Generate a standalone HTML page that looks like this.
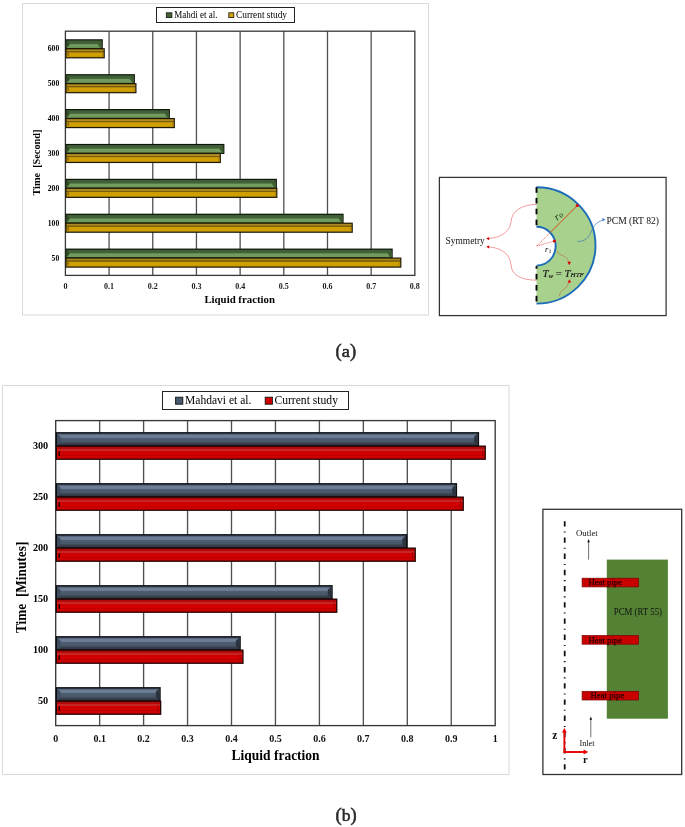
<!DOCTYPE html>
<html><head><meta charset="utf-8"><title>Liquid fraction validation</title>
<style>
html,body{margin:0;padding:0;background:#fff;}
body{width:685px;height:827px;overflow:hidden;}
svg{display:block;font-family:'Liberation Serif', 'Times New Roman', serif;}
</style></head>
<body>
<svg width="685" height="827" viewBox="0 0 685 827">
<rect x="22.50" y="3.50" width="406.00" height="311.50" fill="#fff" stroke="#d9d9d9" stroke-width="1" />
<line x1="109.08" y1="31.20" x2="109.08" y2="275.40" stroke="#505050" stroke-width="1.3" />
<line x1="152.76" y1="31.20" x2="152.76" y2="275.40" stroke="#505050" stroke-width="1.3" />
<line x1="196.44" y1="31.20" x2="196.44" y2="275.40" stroke="#505050" stroke-width="1.3" />
<line x1="240.13" y1="31.20" x2="240.13" y2="275.40" stroke="#505050" stroke-width="1.3" />
<line x1="283.81" y1="31.20" x2="283.81" y2="275.40" stroke="#505050" stroke-width="1.3" />
<line x1="327.49" y1="31.20" x2="327.49" y2="275.40" stroke="#505050" stroke-width="1.3" />
<line x1="371.17" y1="31.20" x2="371.17" y2="275.40" stroke="#505050" stroke-width="1.3" />
<rect x="65.40" y="31.20" width="349.45" height="244.20" fill="none" stroke="#383838" stroke-width="1.3" />
<defs><linearGradient id="gG" x1="0" y1="0" x2="0" y2="1"><stop offset="0" stop-color="#3d5c33"/><stop offset="0.4" stop-color="#44623a"/><stop offset="0.47" stop-color="#5a8049"/><stop offset="0.55" stop-color="#729c60"/><stop offset="0.88" stop-color="#6f985d"/><stop offset="1" stop-color="#557d45"/></linearGradient></defs>
<defs><linearGradient id="gY" x1="0" y1="0" x2="0" y2="1"><stop offset="0" stop-color="#a8861e"/><stop offset="0.2" stop-color="#b08c20"/><stop offset="0.24" stop-color="#7a5e10"/><stop offset="0.34" stop-color="#7a5e10"/><stop offset="0.46" stop-color="#cfa004"/><stop offset="0.85" stop-color="#d0a000"/><stop offset="1" stop-color="#b08a08"/></linearGradient></defs>
<defs><linearGradient id="gS" x1="0" y1="0" x2="0" y2="1"><stop offset="0" stop-color="#3a4658"/><stop offset="0.12" stop-color="#5f6f86"/><stop offset="0.18" stop-color="#6d7d95"/><stop offset="0.37" stop-color="#6a7a91"/><stop offset="0.42" stop-color="#4c5c70"/><stop offset="0.73" stop-color="#485769"/><stop offset="0.78" stop-color="#3b4452"/><stop offset="1" stop-color="#2e353f"/></linearGradient></defs>
<defs><linearGradient id="gR" x1="0" y1="0" x2="0" y2="1"><stop offset="0" stop-color="#a80505"/><stop offset="0.16" stop-color="#b80a0a"/><stop offset="0.2" stop-color="#c52424"/><stop offset="0.35" stop-color="#c82828"/><stop offset="0.38" stop-color="#d10000"/><stop offset="0.7" stop-color="#d20000"/><stop offset="0.73" stop-color="#b80000"/><stop offset="0.78" stop-color="#d00000"/><stop offset="1" stop-color="#c80000"/></linearGradient></defs>
<rect x="65.40" y="39.25" width="37.40" height="10.05" fill="#0d1508" />
<rect x="66.55" y="40.40" width="35.10" height="7.75" fill="url(#gG)" />
<polygon points="66.55,40.40 69.75,44.27 66.55,48.15" fill="#2f4a22"/>
<polygon points="101.65,40.40 101.65,48.15 100.65,48.15 97.65,44.04" fill="#3d5a30"/>
<rect x="65.40" y="48.20" width="39.40" height="10.20" fill="#1e1804" />
<rect x="66.55" y="49.35" width="37.10" height="7.90" fill="url(#gY)" />
<ellipse cx="68.15" cy="54.25" rx="0.9" ry="2.0" fill="#8a6808"/>
<rect x="102.05" y="52.15" width="0.90" height="4.30" fill="#a88412" />
<text x="59.20" y="51.24" font-size="7.6" text-anchor="end" font-weight="bold" fill="#000" >600</text>
<rect x="65.40" y="74.14" width="69.50" height="10.05" fill="#0d1508" />
<rect x="66.55" y="75.29" width="67.20" height="7.75" fill="url(#gG)" />
<polygon points="66.55,75.29 69.75,79.16 66.55,83.04" fill="#2f4a22"/>
<polygon points="133.75,75.29 133.75,83.04 132.75,83.04 129.75,78.93" fill="#3d5a30"/>
<rect x="65.40" y="83.09" width="71.10" height="10.20" fill="#1e1804" />
<rect x="66.55" y="84.24" width="68.80" height="7.90" fill="url(#gY)" />
<ellipse cx="68.15" cy="89.13" rx="0.9" ry="2.0" fill="#8a6808"/>
<rect x="133.75" y="87.04" width="0.90" height="4.30" fill="#a88412" />
<text x="59.20" y="86.13" font-size="7.6" text-anchor="end" font-weight="bold" fill="#000" >500</text>
<rect x="65.40" y="109.02" width="104.50" height="10.05" fill="#0d1508" />
<rect x="66.55" y="110.17" width="102.20" height="7.75" fill="url(#gG)" />
<polygon points="66.55,110.17 69.75,114.05 66.55,117.92" fill="#2f4a22"/>
<polygon points="168.75,110.17 168.75,117.92 167.75,117.92 164.75,113.81" fill="#3d5a30"/>
<rect x="65.40" y="117.97" width="109.50" height="10.20" fill="#1e1804" />
<rect x="66.55" y="119.12" width="107.20" height="7.90" fill="url(#gY)" />
<ellipse cx="68.15" cy="124.02" rx="0.9" ry="2.0" fill="#8a6808"/>
<rect x="172.15" y="121.92" width="0.90" height="4.30" fill="#a88412" />
<text x="59.20" y="121.01" font-size="7.6" text-anchor="end" font-weight="bold" fill="#000" >400</text>
<rect x="65.40" y="143.91" width="159.00" height="10.05" fill="#0d1508" />
<rect x="66.55" y="145.06" width="156.70" height="7.75" fill="url(#gG)" />
<polygon points="66.55,145.06 69.75,148.93 66.55,152.81" fill="#2f4a22"/>
<polygon points="223.25,145.06 223.25,152.81 222.25,152.81 219.25,148.70" fill="#3d5a30"/>
<rect x="65.40" y="152.86" width="155.50" height="10.20" fill="#1e1804" />
<rect x="66.55" y="154.01" width="153.20" height="7.90" fill="url(#gY)" />
<ellipse cx="68.15" cy="158.91" rx="0.9" ry="2.0" fill="#8a6808"/>
<rect x="218.15" y="156.81" width="0.90" height="4.30" fill="#a88412" />
<text x="59.20" y="155.90" font-size="7.6" text-anchor="end" font-weight="bold" fill="#000" >300</text>
<rect x="65.40" y="178.79" width="211.50" height="10.05" fill="#0d1508" />
<rect x="66.55" y="179.94" width="209.20" height="7.75" fill="url(#gG)" />
<polygon points="66.55,179.94 69.75,183.82 66.55,187.69" fill="#2f4a22"/>
<polygon points="275.75,179.94 275.75,187.69 274.75,187.69 271.75,183.59" fill="#3d5a30"/>
<rect x="65.40" y="187.74" width="212.00" height="10.20" fill="#1e1804" />
<rect x="66.55" y="188.89" width="209.70" height="7.90" fill="url(#gY)" />
<ellipse cx="68.15" cy="193.79" rx="0.9" ry="2.0" fill="#8a6808"/>
<rect x="274.65" y="191.69" width="0.90" height="4.30" fill="#a88412" />
<text x="59.20" y="190.79" font-size="7.6" text-anchor="end" font-weight="bold" fill="#000" >200</text>
<rect x="65.40" y="213.68" width="278.20" height="10.05" fill="#0d1508" />
<rect x="66.55" y="214.83" width="275.90" height="7.75" fill="url(#gG)" />
<polygon points="66.55,214.83 69.75,218.70 66.55,222.58" fill="#2f4a22"/>
<polygon points="342.45,214.83 342.45,222.58 341.45,222.58 338.45,218.47" fill="#3d5a30"/>
<rect x="65.40" y="222.63" width="287.40" height="10.20" fill="#1e1804" />
<rect x="66.55" y="223.78" width="285.10" height="7.90" fill="url(#gY)" />
<ellipse cx="68.15" cy="228.68" rx="0.9" ry="2.0" fill="#8a6808"/>
<rect x="350.05" y="226.58" width="0.90" height="4.30" fill="#a88412" />
<text x="59.20" y="225.67" font-size="7.6" text-anchor="end" font-weight="bold" fill="#000" >100</text>
<rect x="65.40" y="248.56" width="327.30" height="10.05" fill="#0d1508" />
<rect x="66.55" y="249.71" width="325.00" height="7.75" fill="url(#gG)" />
<polygon points="66.55,249.71 69.75,253.59 66.55,257.46" fill="#2f4a22"/>
<polygon points="391.55,249.71 391.55,257.46 390.55,257.46 387.55,253.36" fill="#3d5a30"/>
<rect x="65.40" y="257.51" width="336.00" height="10.20" fill="#1e1804" />
<rect x="66.55" y="258.66" width="333.70" height="7.90" fill="url(#gY)" />
<ellipse cx="68.15" cy="263.56" rx="0.9" ry="2.0" fill="#8a6808"/>
<rect x="398.65" y="261.46" width="0.90" height="4.30" fill="#a88412" />
<text x="59.20" y="260.56" font-size="7.6" text-anchor="end" font-weight="bold" fill="#000" >50</text>
<text x="65.40" y="289.20" font-size="8.0" text-anchor="middle" font-weight="bold" fill="#1a1a1a" >0</text>
<text x="109.08" y="289.20" font-size="8.0" text-anchor="middle" font-weight="bold" fill="#1a1a1a" >0.1</text>
<text x="152.76" y="289.20" font-size="8.0" text-anchor="middle" font-weight="bold" fill="#1a1a1a" >0.2</text>
<text x="196.44" y="289.20" font-size="8.0" text-anchor="middle" font-weight="bold" fill="#1a1a1a" >0.3</text>
<text x="240.13" y="289.20" font-size="8.0" text-anchor="middle" font-weight="bold" fill="#1a1a1a" >0.4</text>
<text x="283.81" y="289.20" font-size="8.0" text-anchor="middle" font-weight="bold" fill="#1a1a1a" >0.5</text>
<text x="327.49" y="289.20" font-size="8.0" text-anchor="middle" font-weight="bold" fill="#1a1a1a" >0.6</text>
<text x="371.17" y="289.20" font-size="8.0" text-anchor="middle" font-weight="bold" fill="#1a1a1a" >0.7</text>
<text x="414.85" y="289.20" font-size="8.0" text-anchor="middle" font-weight="bold" fill="#1a1a1a" >0.8</text>
<text x="239.70" y="302.90" font-size="10.8" text-anchor="middle" font-weight="bold" fill="#000" textLength="70.60" lengthAdjust="spacingAndGlyphs" >Liquid fraction</text>
<text transform="translate(39.8,162.6) rotate(-90)" font-size="10.6" text-anchor="middle" font-weight="bold" textLength="66" lengthAdjust="spacingAndGlyphs">Time&#160; [Second]</text>
<rect x="156.50" y="7.50" width="138.00" height="15.00" fill="#fff" stroke="#222" stroke-width="1.0" />
<rect x="166.30" y="12.80" width="5.60" height="4.80" fill="#45633a" stroke="#111" stroke-width="0.8" />
<text x="174.20" y="17.90" font-size="9.8" text-anchor="start" font-weight="normal" fill="#000" textLength="43.40" lengthAdjust="spacingAndGlyphs" >Mahdi et al.</text>
<rect x="228.80" y="12.80" width="5.00" height="4.80" fill="#d5a40c" stroke="#111" stroke-width="0.8" />
<text x="236.00" y="17.90" font-size="9.8" text-anchor="start" font-weight="normal" fill="#000" textLength="51.00" lengthAdjust="spacingAndGlyphs" >Current study</text>
<rect x="439.40" y="177.40" width="226.70" height="138.20" fill="#fff" stroke="#333" stroke-width="1.25" />
<path d="M536.5,187.3 A59.0,58.15 0 0 1 536.5,303.6 L536.5,265.6 A19.2,19.40 0 0 0 536.5,226.8 Z" fill="#a9d18e"/>
<path d="M536.5,187.3 A59.0,58.15 0 0 1 536.5,303.6" fill="none" stroke="#1c6db8" stroke-width="1.9"/>
<path d="M536.5,226.8 A19.2,19.40 0 0 1 536.5,265.6" fill="none" stroke="#1c6db8" stroke-width="1.9"/>
<line x1="536.5" y1="187.2" x2="536.5" y2="192.8" stroke="#000" stroke-width="1.9"/>
<line x1="536.5" y1="197.9" x2="536.5" y2="203.5" stroke="#000" stroke-width="1.9"/>
<line x1="536.5" y1="208.7" x2="536.5" y2="214.3" stroke="#000" stroke-width="1.9"/>
<line x1="536.5" y1="219.6" x2="536.5" y2="225.2" stroke="#000" stroke-width="1.9"/>
<line x1="536.5" y1="266.2" x2="536.5" y2="268.7" stroke="#000" stroke-width="1.9"/>
<line x1="536.5" y1="273.9" x2="536.5" y2="279.5" stroke="#000" stroke-width="1.9"/>
<line x1="536.5" y1="285.0" x2="536.5" y2="290.6" stroke="#000" stroke-width="1.9"/>
<line x1="536.5" y1="295.8" x2="536.5" y2="301.5" stroke="#000" stroke-width="1.9"/>
<line x1="536.8" y1="246.0" x2="550.45" y2="232.35" stroke="#e03030" stroke-width="0.7" stroke-dasharray="1.2,0.8"/>
<line x1="550.45" y1="232.35" x2="576.74" y2="206.06" stroke="#c27a3c" stroke-width="1.15"/>
<circle cx="577.24" cy="205.56" r="1.5" fill="#e00000"/>
<line x1="536.8" y1="246.0" x2="553.5" y2="241.3" stroke="#e03030" stroke-width="0.7" stroke-dasharray="1.2,0.8"/>
<circle cx="554.4" cy="241.0" r="1.5" fill="#e00000"/>
<text x="554.00" y="219.80" font-size="10.2" text-anchor="start" font-weight="normal" fill="#0f2a08" font-style="italic" transform="rotate(-40 557 216)">r</text>
<text x="558.60" y="220.20" font-size="8.0" text-anchor="start" font-weight="normal" fill="#0f2a08" transform="rotate(-40 557 216)">o</text>
<text x="545.00" y="251.50" font-size="8.5" text-anchor="start" font-weight="normal" fill="#000" font-style="italic" >r</text>
<text x="549.30" y="253.00" font-size="6" text-anchor="start" font-weight="normal" fill="#000" >i</text>
<text x="542.4" y="276.6" font-size="10.8" font-style="italic" font-family="'Liberation Serif', 'Times New Roman', serif" fill="#1a1a1a" stroke="#1a1a1a" stroke-width="0.2">T<tspan font-size="7" dy="1.0">w</tspan><tspan dy="-1.0" font-style="normal"> = </tspan>T<tspan font-size="7" dy="0.6" textLength="13.2" lengthAdjust="spacingAndGlyphs">HTF</tspan></text>
<path d="M557,251 C560,257 566,254 568.8,262" fill="none" stroke="#b9743a" stroke-width="0.7"/>
<polygon points="569.2,265.2 567.4,261.8 571.0,261.8" fill="#e00000"/>
<path d="M559.5,296 C560,290 565,290 567,286 C568,284 569,283 569.5,282" fill="none" stroke="#b9743a" stroke-width="0.7"/>
<polygon points="569.4,279.2 567.6,282.6 571.2,282.6" fill="#e00000"/>
<path d="M536.5,204.2 C522,205 512,210 511,222 C510,232 500,238 488,238.5" fill="none" stroke="#f07070" stroke-width="0.7"/>
<path d="M536.5,280.2 C522,280 512,276 511,265 C510,253 500,247.5 488,246.8" fill="none" stroke="#f07070" stroke-width="0.7"/>
<polygon points="486.2,238.6 489.2,237.0 489.2,240.2" fill="#e00000"/>
<polygon points="486.2,246.8 489.2,245.4 489.2,248.4" fill="#e00000"/>
<text x="445.60" y="244.30" font-size="10.3" text-anchor="start" font-weight="normal" fill="#111" textLength="39.20" lengthAdjust="spacingAndGlyphs" >Symmetry</text>
<path d="M577.5,241.5 C586,241.5 589,237 591.5,231 C593.5,226 597,221.5 603,220.2" fill="none" stroke="#3a78c0" stroke-width="0.7"/>
<polygon points="605.5,219.6 602.4,218.1 602.6,221.3" fill="#3a78c0"/>
<text x="606.40" y="223.70" font-size="11.0" text-anchor="start" font-weight="normal" fill="#111" textLength="52.60" lengthAdjust="spacingAndGlyphs" >PCM (RT 82)</text>
<text x="335.6" y="357.2" font-size="18.5" fill="#2a2a2a" stroke="#2a2a2a" stroke-width="0.55">(<tspan font-size="16" textLength="8.2" lengthAdjust="spacingAndGlyphs">a</tspan>)</text>
<rect x="2.50" y="385.50" width="506.50" height="389.00" fill="#fff" stroke="#d9d9d9" stroke-width="1" />
<line x1="99.65" y1="420.60" x2="99.65" y2="725.60" stroke="#505050" stroke-width="1.35" />
<line x1="143.60" y1="420.60" x2="143.60" y2="725.60" stroke="#505050" stroke-width="1.35" />
<line x1="187.55" y1="420.60" x2="187.55" y2="725.60" stroke="#505050" stroke-width="1.35" />
<line x1="231.50" y1="420.60" x2="231.50" y2="725.60" stroke="#505050" stroke-width="1.35" />
<line x1="275.45" y1="420.60" x2="275.45" y2="725.60" stroke="#505050" stroke-width="1.35" />
<line x1="319.40" y1="420.60" x2="319.40" y2="725.60" stroke="#505050" stroke-width="1.35" />
<line x1="363.35" y1="420.60" x2="363.35" y2="725.60" stroke="#505050" stroke-width="1.35" />
<line x1="407.30" y1="420.60" x2="407.30" y2="725.60" stroke="#505050" stroke-width="1.35" />
<line x1="451.25" y1="420.60" x2="451.25" y2="725.60" stroke="#505050" stroke-width="1.35" />
<rect x="55.70" y="420.60" width="439.50" height="305.00" fill="none" stroke="#383838" stroke-width="1.35" />
<rect x="55.70" y="432.10" width="423.40" height="14.50" fill="#0b0e12" />
<rect x="57.00" y="433.40" width="420.80" height="11.90" fill="url(#gS)" />
<polygon points="57.00,433.40 60.60,436.80 60.60,442.30 57.00,445.30" fill="#3f4d60"/>
<polygon points="477.80,433.40 474.20,436.80 474.20,442.30 477.80,445.30" fill="#2b333e"/>
<rect x="55.70" y="445.50" width="430.20" height="14.40" fill="#250404" />
<rect x="57.00" y="446.80" width="427.60" height="11.80" fill="url(#gR)" />
<ellipse cx="59.30" cy="453.42" rx="0.75" ry="2.7" fill="#220000"/>
<rect x="482.00" y="449.80" width="0.90" height="6.80" fill="#9a0000" />
<text x="48.20" y="448.80" font-size="10.2" text-anchor="end" font-weight="bold" fill="#000" >300</text>
<rect x="55.70" y="483.10" width="401.40" height="14.50" fill="#0b0e12" />
<rect x="57.00" y="484.40" width="398.80" height="11.90" fill="url(#gS)" />
<polygon points="57.00,484.40 60.60,487.80 60.60,493.30 57.00,496.30" fill="#3f4d60"/>
<polygon points="455.80,484.40 452.20,487.80 452.20,493.30 455.80,496.30" fill="#2b333e"/>
<rect x="55.70" y="496.50" width="408.20" height="14.40" fill="#250404" />
<rect x="57.00" y="497.80" width="405.60" height="11.80" fill="url(#gR)" />
<ellipse cx="59.30" cy="504.42" rx="0.75" ry="2.7" fill="#220000"/>
<rect x="460.00" y="500.80" width="0.90" height="6.80" fill="#9a0000" />
<text x="48.20" y="499.80" font-size="10.2" text-anchor="end" font-weight="bold" fill="#000" >250</text>
<rect x="55.70" y="534.10" width="351.60" height="14.50" fill="#0b0e12" />
<rect x="57.00" y="535.40" width="349.00" height="11.90" fill="url(#gS)" />
<polygon points="57.00,535.40 60.60,538.80 60.60,544.30 57.00,547.30" fill="#3f4d60"/>
<polygon points="406.00,535.40 402.40,538.80 402.40,544.30 406.00,547.30" fill="#2b333e"/>
<rect x="55.70" y="547.50" width="360.20" height="14.40" fill="#250404" />
<rect x="57.00" y="548.80" width="357.60" height="11.80" fill="url(#gR)" />
<ellipse cx="59.30" cy="555.42" rx="0.75" ry="2.7" fill="#220000"/>
<rect x="412.00" y="551.80" width="0.90" height="6.80" fill="#9a0000" />
<text x="48.20" y="550.80" font-size="10.2" text-anchor="end" font-weight="bold" fill="#000" >200</text>
<rect x="55.70" y="585.10" width="277.00" height="14.50" fill="#0b0e12" />
<rect x="57.00" y="586.40" width="274.40" height="11.90" fill="url(#gS)" />
<polygon points="57.00,586.40 60.60,589.80 60.60,595.30 57.00,598.30" fill="#3f4d60"/>
<polygon points="331.40,586.40 327.80,589.80 327.80,595.30 331.40,598.30" fill="#2b333e"/>
<rect x="55.70" y="598.50" width="281.70" height="14.40" fill="#250404" />
<rect x="57.00" y="599.80" width="279.10" height="11.80" fill="url(#gR)" />
<ellipse cx="59.30" cy="606.42" rx="0.75" ry="2.7" fill="#220000"/>
<rect x="333.50" y="602.80" width="0.90" height="6.80" fill="#9a0000" />
<text x="48.20" y="601.80" font-size="10.2" text-anchor="end" font-weight="bold" fill="#000" >150</text>
<rect x="55.70" y="636.10" width="185.10" height="14.50" fill="#0b0e12" />
<rect x="57.00" y="637.40" width="182.50" height="11.90" fill="url(#gS)" />
<polygon points="57.00,637.40 60.60,640.80 60.60,646.30 57.00,649.30" fill="#3f4d60"/>
<polygon points="239.50,637.40 235.90,640.80 235.90,646.30 239.50,649.30" fill="#2b333e"/>
<rect x="55.70" y="649.50" width="187.90" height="14.40" fill="#250404" />
<rect x="57.00" y="650.80" width="185.30" height="11.80" fill="url(#gR)" />
<ellipse cx="59.30" cy="657.42" rx="0.75" ry="2.7" fill="#220000"/>
<rect x="239.70" y="653.80" width="0.90" height="6.80" fill="#9a0000" />
<text x="48.20" y="652.80" font-size="10.2" text-anchor="end" font-weight="bold" fill="#000" >100</text>
<rect x="55.70" y="687.10" width="105.00" height="14.50" fill="#0b0e12" />
<rect x="57.00" y="688.40" width="102.40" height="11.90" fill="url(#gS)" />
<polygon points="57.00,688.40 60.60,691.80 60.60,697.30 57.00,700.30" fill="#3f4d60"/>
<polygon points="159.40,688.40 155.80,691.80 155.80,697.30 159.40,700.30" fill="#2b333e"/>
<rect x="55.70" y="700.50" width="105.60" height="14.40" fill="#250404" />
<rect x="57.00" y="701.80" width="103.00" height="11.80" fill="url(#gR)" />
<ellipse cx="59.30" cy="708.42" rx="0.75" ry="2.7" fill="#220000"/>
<rect x="157.40" y="704.80" width="0.90" height="6.80" fill="#9a0000" />
<text x="48.20" y="703.80" font-size="10.2" text-anchor="end" font-weight="bold" fill="#000" >50</text>
<text x="55.70" y="741.50" font-size="10.0" text-anchor="middle" font-weight="bold" fill="#111" >0</text>
<text x="99.65" y="741.50" font-size="10.0" text-anchor="middle" font-weight="bold" fill="#111" >0.1</text>
<text x="143.60" y="741.50" font-size="10.0" text-anchor="middle" font-weight="bold" fill="#111" >0.2</text>
<text x="187.55" y="741.50" font-size="10.0" text-anchor="middle" font-weight="bold" fill="#111" >0.3</text>
<text x="231.50" y="741.50" font-size="10.0" text-anchor="middle" font-weight="bold" fill="#111" >0.4</text>
<text x="275.45" y="741.50" font-size="10.0" text-anchor="middle" font-weight="bold" fill="#111" >0.5</text>
<text x="319.40" y="741.50" font-size="10.0" text-anchor="middle" font-weight="bold" fill="#111" >0.6</text>
<text x="363.35" y="741.50" font-size="10.0" text-anchor="middle" font-weight="bold" fill="#111" >0.7</text>
<text x="407.30" y="741.50" font-size="10.0" text-anchor="middle" font-weight="bold" fill="#111" >0.8</text>
<text x="451.25" y="741.50" font-size="10.0" text-anchor="middle" font-weight="bold" fill="#111" >0.9</text>
<text x="495.20" y="741.50" font-size="10.0" text-anchor="middle" font-weight="bold" fill="#111" >1</text>
<text x="275.60" y="760.40" font-size="13.8" text-anchor="middle" font-weight="bold" fill="#000" textLength="88.00" lengthAdjust="spacingAndGlyphs" >Liquid fraction</text>
<text transform="translate(25.6,587.4) rotate(-90)" font-size="13.6" text-anchor="middle" font-weight="bold" textLength="91.4" lengthAdjust="spacingAndGlyphs">Time&#160; [Minutes]</text>
<rect x="162.50" y="391.50" width="186.00" height="18.00" fill="#fff" stroke="#222" stroke-width="1.0" />
<rect x="175.60" y="397.20" width="7.20" height="7.00" fill="#4a5a6e" stroke="#111" stroke-width="0.9" />
<text x="185.00" y="403.80" font-size="12.8" text-anchor="start" font-weight="normal" fill="#000" textLength="66.40" lengthAdjust="spacingAndGlyphs" >Mahdavi et al.</text>
<rect x="265.20" y="397.20" width="7.20" height="7.00" fill="#d20000" stroke="#111" stroke-width="0.9" />
<text x="274.40" y="403.80" font-size="12.8" text-anchor="start" font-weight="normal" fill="#000" textLength="63.60" lengthAdjust="spacingAndGlyphs" >Current study</text>
<rect x="542.90" y="509.30" width="138.80" height="265.20" fill="#fff" stroke="#333" stroke-width="1.3" />
<line x1="564.7" y1="521.2" x2="564.7" y2="770" stroke="#111" stroke-width="1.8" stroke-dasharray="5.4,4.9,1.1,4.8"/>
<rect x="606.80" y="559.60" width="61.10" height="159.10" fill="#548235" />
<rect x="582.10" y="578.20" width="56.50" height="8.70" fill="#c80000" stroke="#7a0000" stroke-width="0.7" />
<text x="588.60" y="585.20" font-size="8.2" text-anchor="start" font-weight="normal" fill="#2a0000" textLength="33.40" lengthAdjust="spacingAndGlyphs" stroke="#2a0000" stroke-width="0.25">Heat pipe</text>
<rect x="582.10" y="635.50" width="56.50" height="8.70" fill="#c80000" stroke="#7a0000" stroke-width="0.7" />
<text x="588.60" y="642.50" font-size="8.2" text-anchor="start" font-weight="normal" fill="#2a0000" textLength="33.40" lengthAdjust="spacingAndGlyphs" stroke="#2a0000" stroke-width="0.25">Heat pipe</text>
<rect x="582.10" y="691.30" width="56.50" height="8.70" fill="#c80000" stroke="#7a0000" stroke-width="0.7" />
<text x="590.40" y="698.30" font-size="8.2" text-anchor="start" font-weight="normal" fill="#2a0000" textLength="33.90" lengthAdjust="spacingAndGlyphs" stroke="#2a0000" stroke-width="0.25">Heat pipe</text>
<text x="613.80" y="615.40" font-size="9.3" text-anchor="start" font-weight="normal" fill="#111" textLength="48.20" lengthAdjust="spacingAndGlyphs" >PCM (RT 55)</text>
<line x1="588.6" y1="541" x2="588.6" y2="559.6" stroke="#333" stroke-width="0.7"/>
<polygon points="588.6,539.0 587.3,542.3 589.9,542.3" fill="#111"/>
<text x="576.00" y="536.40" font-size="9.2" text-anchor="start" font-weight="normal" fill="#111" textLength="21.80" lengthAdjust="spacingAndGlyphs" >Outlet</text>
<line x1="590.8" y1="718.5" x2="590.8" y2="737.3" stroke="#333" stroke-width="0.7"/>
<polygon points="590.8,716.5 589.5,719.8 592.1,719.8" fill="#111"/>
<text x="579.40" y="745.50" font-size="9.2" text-anchor="start" font-weight="normal" fill="#111" textLength="15.20" lengthAdjust="spacingAndGlyphs" >Inlet</text>
<line x1="563.5" y1="752.0" x2="585" y2="752.0" stroke="#e80000" stroke-width="1.9"/>
<polygon points="588.2,752.0 583.6,749.6 583.6,754.4" fill="#e80000"/>
<line x1="564.4" y1="752.9" x2="564.4" y2="731.5" stroke="#e80000" stroke-width="1.9"/>
<polygon points="564.4,728.0 562.0,732.6 566.8,732.6" fill="#e80000"/>
<text x="552.20" y="738.60" font-size="11.5" text-anchor="start" font-weight="bold" fill="#111" >z</text>
<text x="583.00" y="762.80" font-size="10.5" text-anchor="start" font-weight="bold" fill="#111" >r</text>
<text x="335.6" y="820.9" font-size="18.5" fill="#2a2a2a" stroke="#2a2a2a" stroke-width="0.55">(<tspan font-size="17.5">b</tspan>)</text>
</svg>
</body></html>
